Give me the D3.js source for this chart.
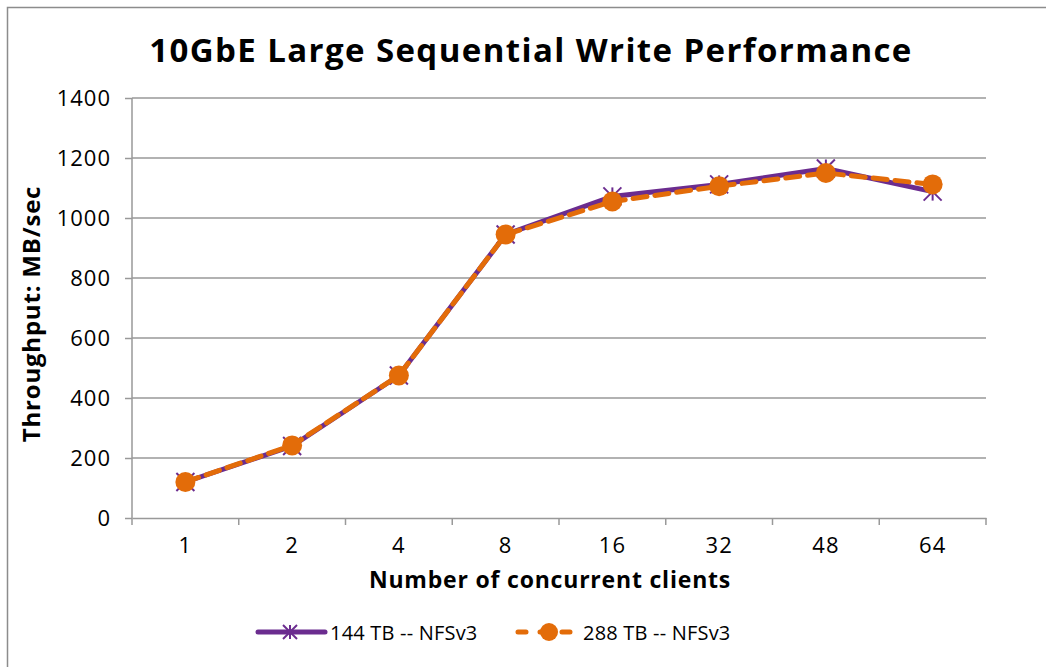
<!DOCTYPE html>
<html>
<head>
<meta charset="utf-8">
<script src="https://cdn.jsdelivr.net/npm/d3@7"></script>
<style>
  body { margin: 0; background: #fff; }
  svg text { font-family: "Open Sans", "Noto Sans", sans-serif; fill: #000; }
</style>
</head>
<body>
<div id="chart"></div>
<script>
const width = 1046;
const height = 667;

const clients = ["1", "2", "4", "8", "16", "32", "48", "64"];
const nfs144 = [120, 240, 475, 945, 1072, 1112, 1165, 1088];
const nfs288 = [120, 242, 475, 945, 1055, 1106, 1150, 1112];
const yTicks = [0, 200, 400, 600, 800, 1000, 1200, 1400];

const margin = { left: 132, right: 60, top: 98, bottom: 149 };

const svg = d3.select("#chart")
  .append("svg")
  .attr("width", width)
  .attr("height", height);

// outer chart border
svg.append("rect")
  .attr("x", 7.5).attr("y", 7.5)
  .attr("width", width).attr("height", height)
  .attr("fill", "none")
  .attr("stroke", "#8c8c8c")
  .attr("stroke-width", 1.5);

const x = d3.scaleBand()
  .domain(clients)
  .range([margin.left, width - margin.right]);

const y = d3.scaleLinear()
  .domain([0, 1400])
  .range([height - margin.bottom, margin.top]);

// gridlines
svg.append("g")
  .selectAll("line")
  .data(yTicks.slice(1))
  .enter()
  .append("line")
  .attr("x1", margin.left)
  .attr("x2", width - margin.right)
  .attr("y1", d => y(d))
  .attr("y2", d => y(d))
  .attr("stroke", "#999")
  .attr("stroke-width", 1.5);

// y axis
const yAxis = svg.append("g")
  .attr("transform", `translate(${margin.left},0)`)
  .call(d3.axisLeft(y).tickValues(yTicks).tickFormat(d3.format("d")).tickSize(7).tickPadding(14));

// x axis (ticks at band edges)
const xAxis = svg.append("g")
  .attr("transform", `translate(0,${y(0)})`)
  .call(d3.axisBottom(x).tickSize(0).tickPadding(19));

svg.append("g")
  .selectAll("line")
  .data(clients.concat(["end"]))
  .enter()
  .append("line")
  .attr("x1", (d, i) => i < clients.length ? x(d) : x.range()[1])
  .attr("x2", (d, i) => i < clients.length ? x(d) : x.range()[1])
  .attr("y1", y(0))
  .attr("y2", y(0) + 7)
  .attr("stroke", "#999")
  .attr("stroke-width", 1.5);

[yAxis, xAxis].forEach(a => {
  a.selectAll("path").attr("stroke", "#999").attr("stroke-width", 1.5);
  a.selectAll("line").attr("stroke", "#999").attr("stroke-width", 1.5);
  a.selectAll("text").style("font-size", "22px").style("letter-spacing", "1px").attr("fill", "#000");
});
yAxis.select("path").attr("d", `M0,${y(0)}V${y(1400)}`);
yAxis.selectAll("text").attr("dy", "0.35em");

const cx = d => x(d) + x.bandwidth() / 2;

const line = d3.line()
  .x(d => cx(d[0]))
  .y(d => y(d[1]));

// series 1: purple solid with star markers
const s1 = clients.map((c, i) => [c, nfs144[i]]);
svg.append("path")
  .datum(s1)
  .attr("d", line)
  .attr("fill", "none")
  .attr("stroke", "#6b2c8f")
  .attr("stroke-width", 5);

function star(g, px, py, r, color) {
  [[-r, -r, r, r], [-r, r, r, -r], [0, -r, 0, r]].forEach(s => {
    g.append("line")
      .attr("x1", px + s[0]).attr("y1", py + s[1])
      .attr("x2", px + s[2]).attr("y2", py + s[3])
      .attr("stroke", color).attr("stroke-width", 2);
  });
}
s1.forEach(d => star(svg, cx(d[0]), y(d[1]), 9, "#6b2c8f"));

// series 2: orange dashed with circles
const s2 = clients.map((c, i) => [c, nfs288[i]]);
svg.append("path")
  .datum(s2)
  .attr("d", line)
  .attr("fill", "none")
  .attr("stroke", "#e36c09")
  .attr("stroke-width", 5)
  .attr("stroke-dasharray", "14,8")
  .attr("stroke-linecap", "round");

svg.append("g")
  .selectAll("circle")
  .data(s2)
  .enter()
  .append("circle")
  .attr("cx", d => cx(d[0]))
  .attr("cy", d => y(d[1]))
  .attr("r", 10)
  .attr("fill", "#e36c09");

// title
svg.append("text")
  .attr("x", 531)
  .attr("y", 62)
  .attr("text-anchor", "middle")
  .style("font-size", "33px")
  .style("font-weight", "bold")
  .style("letter-spacing", "1.4px")
  .text("10GbE Large Sequential Write Performance");

// axis titles
svg.append("text")
  .attr("x", 550)
  .attr("y", 588)
  .attr("text-anchor", "middle")
  .style("font-size", "23px")
  .style("font-weight", "bold")
  .style("letter-spacing", "0.8px")
  .text("Number of concurrent clients");

svg.append("text")
  .attr("transform", `translate(40,${y(680)}) rotate(-90)`)
  .attr("text-anchor", "middle")
  .style("font-size", "24px")
  .style("font-weight", "bold")
  .style("letter-spacing", "0.8px")
  .text("Throughput: MB/sec");

// legend
const legend = svg.append("g");
legend.append("line")
  .attr("x1", 258).attr("x2", 325)
  .attr("y1", 632).attr("y2", 632)
  .attr("stroke", "#6b2c8f").attr("stroke-width", 5)
  .attr("stroke-linecap", "round");
star(legend, 290, 632, 7, "#6b2c8f");
legend.append("text")
  .attr("x", 330).attr("y", 640)
  .style("font-size", "20px")
  .style("letter-spacing", "0.2px")
  .text("144 TB -- NFSv3");

legend.append("line")
  .attr("x1", 518).attr("x2", 570)
  .attr("y1", 632).attr("y2", 632)
  .attr("stroke", "#e36c09").attr("stroke-width", 5)
  .attr("stroke-dasharray", "8,14")
  .attr("stroke-linecap", "round");
legend.append("circle")
  .attr("cx", 549).attr("cy", 632).attr("r", 9)
  .attr("fill", "#e36c09");
legend.append("text")
  .attr("x", 583).attr("y", 640)
  .style("font-size", "20px")
  .style("letter-spacing", "0.2px")
  .text("288 TB -- NFSv3");
</script>
</body>
</html>
